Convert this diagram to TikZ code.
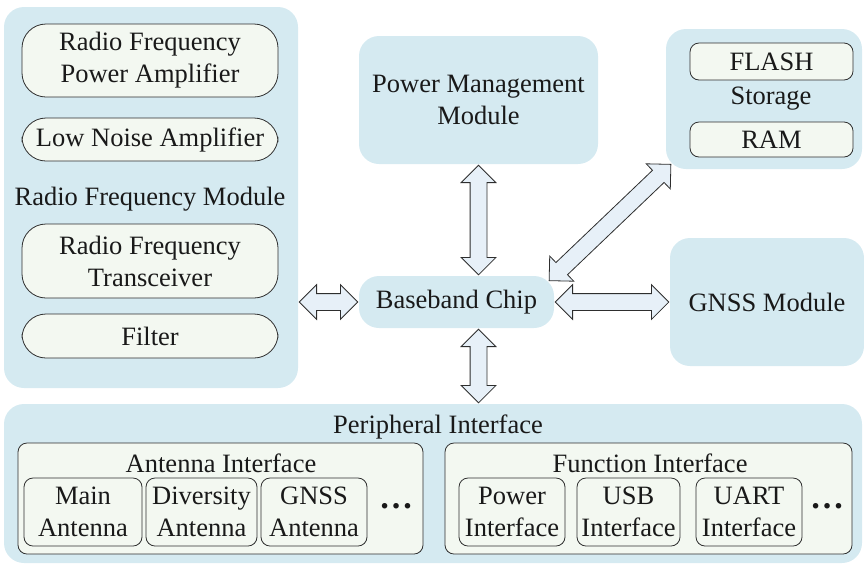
\documentclass[tikz,border=0pt]{standalone}
\usepackage{fontspec}
\setmainfont{Liberation Serif}
\usetikzlibrary{shapes.arrows,calc}
\definecolor{modblue}{HTML}{D5EAF1}
\definecolor{partfill}{HTML}{F3F8F1}
\definecolor{arrowfill}{HTML}{E7F0F8}
\definecolor{edgegray}{HTML}{2E2E2E}
\tikzset{
  module/.style={fill=modblue, rounded corners=20pt, inner sep=0pt, align=center},
  pill/.style={draw=edgegray, fill=partfill, line width=0.8pt, rounded corners=24pt, inner sep=0pt, align=center, minimum width=256pt},
  part/.style={draw=edgegray, fill=partfill, line width=0.8pt, rounded corners=9pt, inner sep=0pt, align=center},
  bigarrow/.style={double arrow, draw=edgegray, fill=arrowfill, line width=0.8pt, inner sep=8pt, double arrow head extend=9pt, minimum width=34pt}
}
\newcommand{\linkarrow}[3][-2]{%
  \path let \p1=(#2), \p2=(#3), \n1={atan2(\y2-\y1,\x2-\x1)}, \n2={veclen(\x2-\x1,\y2-\y1)} in
    node[bigarrow, minimum height={\n2+#1}, rotate=\n1] at ($(#2)!0.5!(#3)$) {};}
\begin{document}
\begin{tikzpicture}[x=1pt, y=-1pt, font=\rmfamily\fontsize{26.5}{32}\selectfont, text=black!90]
\useasboundingbox (0,0) rectangle (864,566);

\node[module, minimum width=294pt, minimum height=381pt] (rfm) at (151,197.5) {};
\node[pill, minimum height=73pt] (pa) at (150,60.5) {Radio Frequency\\Power Amplifier};
\node[pill, minimum height=43pt] (lna) at (150,139.5) {Low Noise Amplifier};
\node (rfmlabel) at (150,199) {Radio Frequency Module};
\node[pill, minimum height=74pt] (trx) at (150,261) {Radio Frequency\\Transceiver};
\node[pill, minimum height=44pt] (filt) at (150,336) {Filter};

\node[module, minimum width=239pt, minimum height=128pt] (pmm) at (478.5,100) {Power Management\\Module};
\node[module, minimum width=195pt, minimum height=52pt] (bb) at (456.5,302) {Baseband Chip};

\node[module, minimum width=196pt, minimum height=140pt] (stor) at (764,99) {};
\node[part, minimum width=163pt, minimum height=37pt] (flash) at (771.5,61.5) {FLASH};
\node (storlabel) at (771,99) {Storage};
\node[part, minimum width=163pt, minimum height=35pt] (ram) at (771.5,139.5) {RAM};

\node[module, minimum width=194pt, minimum height=128pt] (gnss) at (767,302) {GNSS Module};

\node[module, minimum width=858pt, minimum height=159pt] (per) at (433,483.5) {};
\node (perlabel) at (438,427) {Peripheral Interface};

\node[part, minimum width=405pt, minimum height=111pt] (ant) at (220.5,498.5) {};
\node (antlabel) at (221,463) {Antenna Interface};
\node[part, minimum width=118pt, minimum height=68pt] (main) at (83,512) {Main\\Antenna};
\node[part, minimum width=111pt, minimum height=68pt] (div) at (201.5,512) {Diversity\\Antenna};
\node[part, minimum width=106pt, minimum height=68pt] (gant) at (314,512) {GNSS\\Antenna};
\node[font=\fontsize{34}{34}\selectfont\bfseries] (antdots) at (396,506) {\textellipsis};

\node[part, minimum width=407pt, minimum height=111pt] (fun) at (648.5,498.5) {};
\node (funlabel) at (650,463) {Function Interface};
\node[part, minimum width=106pt, minimum height=68pt] (pwr) at (512,512) {Power\\Interface};
\node[part, minimum width=103pt, minimum height=68pt] (usb) at (628.5,512) {USB\\Interface};
\node[part, minimum width=106pt, minimum height=68pt] (uart) at (749,512) {UART\\Interface};
\node[font=\fontsize{34}{34}\selectfont\bfseries] (fundots) at (827,506) {\textellipsis};

\linkarrow{rfm.east |- bb.west}{bb.west}
\linkarrow{pmm.south}{pmm.south |- bb.north}
\linkarrow{pmm.south |- bb.south}{pmm.south |- per.north}
\linkarrow[14]{bb.north east}{stor.south west}
\linkarrow{bb.east}{gnss.west}
\end{tikzpicture}
\end{document}
